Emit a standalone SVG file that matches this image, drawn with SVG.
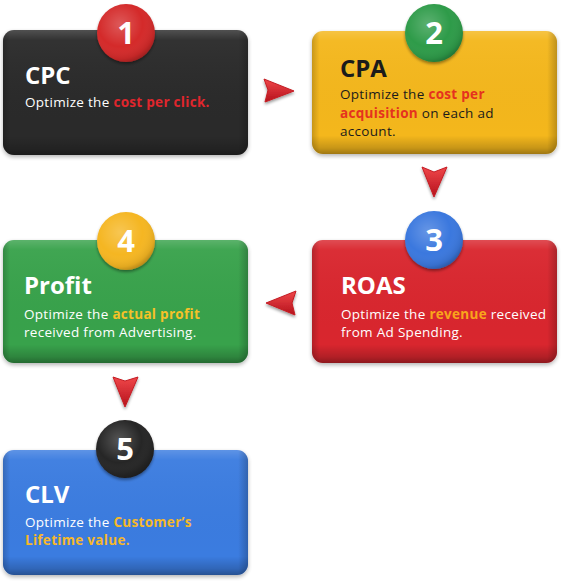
<svg xmlns="http://www.w3.org/2000/svg" width="565" height="581" viewBox="0 0 565 581">
<defs>
  <linearGradient id="shadeV" x1="0" y1="0" x2="0" y2="1">
    <stop offset="0" stop-color="#fff" stop-opacity="0.18"/>
    <stop offset="0.08" stop-color="#fff" stop-opacity="0.04"/>
    <stop offset="0.85" stop-color="#000" stop-opacity="0"/>
    <stop offset="0.95" stop-color="#000" stop-opacity="0.18"/>
    <stop offset="1" stop-color="#000" stop-opacity="0.35"/>
  </linearGradient>
  <linearGradient id="shadeH" x1="0" y1="0" x2="1" y2="0">
    <stop offset="0" stop-color="#000" stop-opacity="0.18"/>
    <stop offset="0.03" stop-color="#000" stop-opacity="0"/>
    <stop offset="0.96" stop-color="#000" stop-opacity="0"/>
    <stop offset="1" stop-color="#000" stop-opacity="0.22"/>
  </linearGradient>
  <radialGradient id="ball" cx="0.4" cy="0.35" r="0.7">
    <stop offset="0" stop-color="#fff" stop-opacity="0.22"/>
    <stop offset="0.55" stop-color="#fff" stop-opacity="0"/>
    <stop offset="0.85" stop-color="#000" stop-opacity="0.08"/>
    <stop offset="1" stop-color="#000" stop-opacity="0.3"/>
  </radialGradient>
  <linearGradient id="arrowG" x1="0" y1="0" x2="0" y2="1">
    <stop offset="0" stop-color="#f0474a"/>
    <stop offset="1" stop-color="#b5121c"/>
  </linearGradient>
  <filter id="drop" x="-10%" y="-10%" width="120%" height="130%">
    <feGaussianBlur in="SourceAlpha" stdDeviation="2"/>
    <feOffset dx="0" dy="2" result="b"/>
    <feComponentTransfer><feFuncA type="linear" slope="0.3"/></feComponentTransfer>
    <feMerge><feMergeNode/><feMergeNode in="SourceGraphic"/></feMerge>
  </filter>
  <filter id="soft" x="-30%" y="-30%" width="160%" height="160%">
    <feGaussianBlur in="SourceAlpha" stdDeviation="1.5"/>
    <feOffset dx="0" dy="2"/>
    <feComponentTransfer><feFuncA type="linear" slope="0.4"/></feComponentTransfer>
    <feMerge><feMergeNode/><feMergeNode in="SourceGraphic"/></feMerge>
  </filter>
</defs>
<style>
  .title { font-family: "Open Sans", "Liberation Sans", sans-serif; font-weight: 700; font-size: 24px; fill: #fff; }
  .body { font-family: "Open Sans", "Liberation Sans", sans-serif; font-weight: 400; font-size: 13.5px; letter-spacing: 0.3px; fill: #fff; }
  .hl { font-weight: 700; }
  .num { font-family: "Open Sans", "Liberation Sans", sans-serif; font-weight: 700; font-size: 31px; fill: #fff; text-anchor: middle; }
  .dark { fill: #1b1b1b; }
  .ov { fill: url(#shadeV); }
  .oh { fill: url(#shadeH); }
  .ballov { fill: url(#ball); }
  .arrow { fill: url(#arrowG); stroke: #c41c24; stroke-width: 1; stroke-linejoin: round; }
</style>

<g id="connectors" filter="url(#soft)">
  <path class="arrow" d="M264,79 L294,91 L265,102 L268,90 Z"/>
  <path class="arrow" d="M422,167 L434,172 L447,167 L434,197 Z"/>
  <path class="arrow" d="M296,291 L266,303 L295,315 L292,303 Z"/>
  <path class="arrow" d="M113,377 L125,381 L138,377 L125,407 Z"/>
</g>

<g id="node-cpc">
  <g filter="url(#drop)">
    <rect x="3" y="30" width="245" height="125" rx="11" fill="#2c2b2b"/>
  </g>
  <rect x="3" y="30" width="245" height="125" rx="11" class="ov"/>
  <rect x="3" y="30" width="245" height="125" rx="11" class="oh"/>
  <g filter="url(#soft)"><circle cx="126" cy="33" r="29" fill="#d42b2b"/></g>
  <circle cx="126" cy="33" r="29" class="ballov"/>
  <text class="num" x="126" y="44">1</text>
  <text class="title" x="25" y="84">CPC</text>
  <text class="body" x="25" y="107">Optimize the <tspan class="hl" fill="#e0262d">cost per click.</tspan></text>
</g>

<g id="node-cpa">
  <g filter="url(#drop)">
    <rect x="312" y="31" width="245" height="123" rx="11" fill="#f4b71f"/>
  </g>
  <rect x="312" y="31" width="245" height="123" rx="11" class="ov"/>
  <rect x="312" y="31" width="245" height="123" rx="11" class="oh"/>
  <g filter="url(#soft)"><circle cx="434" cy="33" r="29" fill="#2f9b48"/></g>
  <circle cx="434" cy="33" r="29" class="ballov"/>
  <text class="num" x="434" y="44">2</text>
  <text class="title dark" x="340" y="77">CPA</text>
  <text class="body dark" x="340" y="99">Optimize the <tspan class="hl" fill="#e5321f">cost per</tspan></text>
  <text class="body dark" x="340" y="117.5"><tspan class="hl" fill="#e5321f">acquisition</tspan> on each ad</text>
  <text class="body dark" x="340" y="136">account.</text>
</g>

<g id="node-roas">
  <g filter="url(#drop)">
    <rect x="312" y="240" width="245" height="123" rx="11" fill="#d9252d"/>
  </g>
  <rect x="312" y="240" width="245" height="123" rx="11" class="ov"/>
  <rect x="312" y="240" width="245" height="123" rx="11" class="oh"/>
  <g filter="url(#soft)"><circle cx="434" cy="240" r="29" fill="#3b78de"/></g>
  <circle cx="434" cy="240" r="29" class="ballov"/>
  <text class="num" x="434" y="251">3</text>
  <text class="title" x="341" y="294">ROAS</text>
  <text class="body" x="341" y="318.5">Optimize the <tspan class="hl" fill="#f9a51b">revenue</tspan> received</text>
  <text class="body" x="341" y="337">from Ad Spending.</text>
</g>

<g id="node-profit">
  <g filter="url(#drop)">
    <rect x="3" y="240" width="245" height="123" rx="11" fill="#37a24b"/>
  </g>
  <rect x="3" y="240" width="245" height="123" rx="11" class="ov"/>
  <rect x="3" y="240" width="245" height="123" rx="11" class="oh"/>
  <g filter="url(#soft)"><circle cx="126" cy="241" r="29" fill="#f5b623"/></g>
  <circle cx="126" cy="241" r="29" class="ballov"/>
  <text class="num" x="126" y="252">4</text>
  <text class="title" x="24" y="294">Profit</text>
  <text class="body" x="24" y="318.5">Optimize the <tspan class="hl" fill="#f6c228">actual profit</tspan></text>
  <text class="body" x="24" y="337">received from Advertising.</text>
</g>

<g id="node-clv">
  <g filter="url(#drop)">
    <rect x="3" y="450" width="245" height="125" rx="11" fill="#3b7be0"/>
  </g>
  <rect x="3" y="450" width="245" height="125" rx="11" class="ov"/>
  <rect x="3" y="450" width="245" height="125" rx="11" class="oh"/>
  <g filter="url(#soft)"><circle cx="125" cy="449" r="29" fill="#262525"/></g>
  <circle cx="125" cy="449" r="29" class="ballov"/>
  <text class="num" x="125" y="460">5</text>
  <text class="title" x="25" y="503">CLV</text>
  <text class="body" x="25" y="526.5">Optimize the <tspan class="hl" fill="#f6b82a">Customer’s</tspan></text>
  <text class="body hl" x="25" y="545" fill="#f6b82a" style="fill:#f6b82a">Lifetime value.</text>
</g>
</svg>
